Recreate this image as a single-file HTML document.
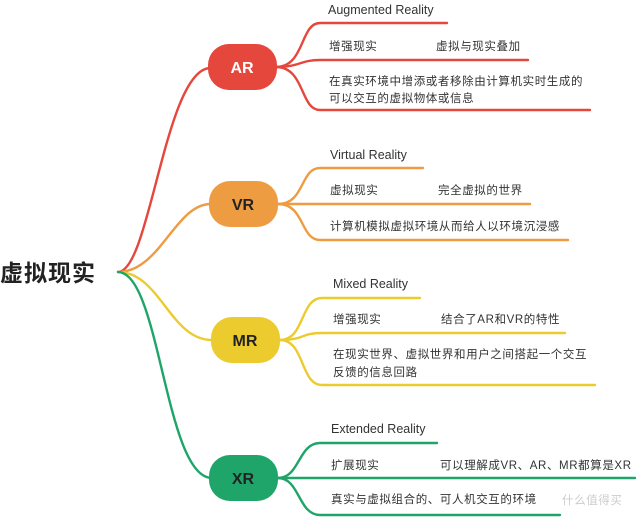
<!DOCTYPE html>
<html><head><meta charset="utf-8"><style>
html,body{margin:0;padding:0;background:#fff;}
svg{display:block}
text{font-family:"Liberation Sans","Noto Sans CJK SC",sans-serif;font-size:11.5px;fill:#333;letter-spacing:0.6px;}
.t{font-size:12.5px;letter-spacing:0;}
.n{font-size:16px;font-weight:bold;letter-spacing:0;}
</style></head><body>
<svg width="640" height="518" viewBox="0 0 640 518" xmlns="http://www.w3.org/2000/svg">
<g fill="none" stroke-width="2.4" stroke-linecap="round">
<path d="M118 272 C150 272 165 70 210 68" stroke="#e5473d"/>
<path d="M118 272 C160 272 175 205 210 204" stroke="#ee9c42"/>
<path d="M118 272 C160 272 170 340 212 340" stroke="#eccb2e"/>
<path d="M118 272 C160 272 165 478 212 478" stroke="#1fa56a"/>
<g stroke="#e5473d">
<path d="M276 67 C305 67 300 23 320 23 L447 23"/>
<path d="M276 67 C300 67 300 60 320 60 L528 60"/>
<path d="M276 67 C305 67 300 110 320 110 L590 110"/>
</g>
<g stroke="#ee9c42">
<path d="M278 204 C305 204 300 168 320 168 L423 168"/>
<path d="M278 204 C300 204 300 204 320 204 L530 204"/>
<path d="M278 204 C305 204 300 240 320 240 L568 240"/>
</g>
<g stroke="#eccb2e">
<path d="M280 340 C305 340 300 298 322 298 L420 298"/>
<path d="M280 340 C305 340 300 333 322 333 L565 333"/>
<path d="M280 340 C305 340 300 385 322 385 L595 385"/>
</g>
<g stroke="#1fa56a">
<path d="M278 478 C300 478 298 443 320 443 L437 443"/>
<path d="M278 478 C300 478 300 478 320 478 L635 478"/>
<path d="M278 478 C300 478 298 515 320 515 L560 515"/>
</g>
</g>
<rect x="208" y="44" width="69" height="46" rx="21" fill="#e5473d"/>
<rect x="209" y="181" width="69" height="46" rx="21" fill="#ee9c42"/>
<rect x="211" y="317" width="69" height="46" rx="21" fill="#eccb2e"/>
<rect x="209" y="455" width="69" height="46" rx="21" fill="#1fa56a"/>
<text class="n" x="242" y="73" text-anchor="middle" style="fill:#fff">AR</text>
<text class="n" x="243" y="210" text-anchor="middle" style="fill:#222">VR</text>
<text class="n" x="245" y="346" text-anchor="middle" style="fill:#222">MR</text>
<text class="n" x="243" y="484" text-anchor="middle" style="fill:#222">XR</text>
<text x="0" y="281" style="font-size:23px;font-weight:bold;fill:#222;letter-spacing:1px">虚拟现实</text>
<text class="t" x="328" y="14">Augmented Reality</text>
<text x="329" y="50">增强现实</text><text x="436" y="50">虚拟与现实叠加</text>
<text x="329" y="85">在真实环境中增添或者移除由计算机实时生成的</text>
<text x="329" y="102">可以交互的虚拟物体或信息</text>
<text class="t" x="330" y="159">Virtual Reality</text>
<text x="330" y="194">虚拟现实</text><text x="438" y="194">完全虚拟的世界</text>
<text x="330" y="230">计算机模拟虚拟环境从而给人以环境沉浸感</text>
<text class="t" x="333" y="288">Mixed Reality</text>
<text x="333" y="323">增强现实</text><text x="441" y="323">结合了AR和VR的特性</text>
<text x="333" y="358">在现实世界、虚拟世界和用户之间搭起一个交互</text>
<text x="333" y="376">反馈的信息回路</text>
<text class="t" x="331" y="433">Extended Reality</text>
<text x="331" y="469">扩展现实</text><text x="440" y="469">可以理解成VR、AR、MR都算是XR</text>
<text x="331" y="503">真实与虚拟组合的、可人机交互的环境</text>
<text x="562" y="504" style="fill:#ccc">什么值得买</text>
</svg>
</body></html>
